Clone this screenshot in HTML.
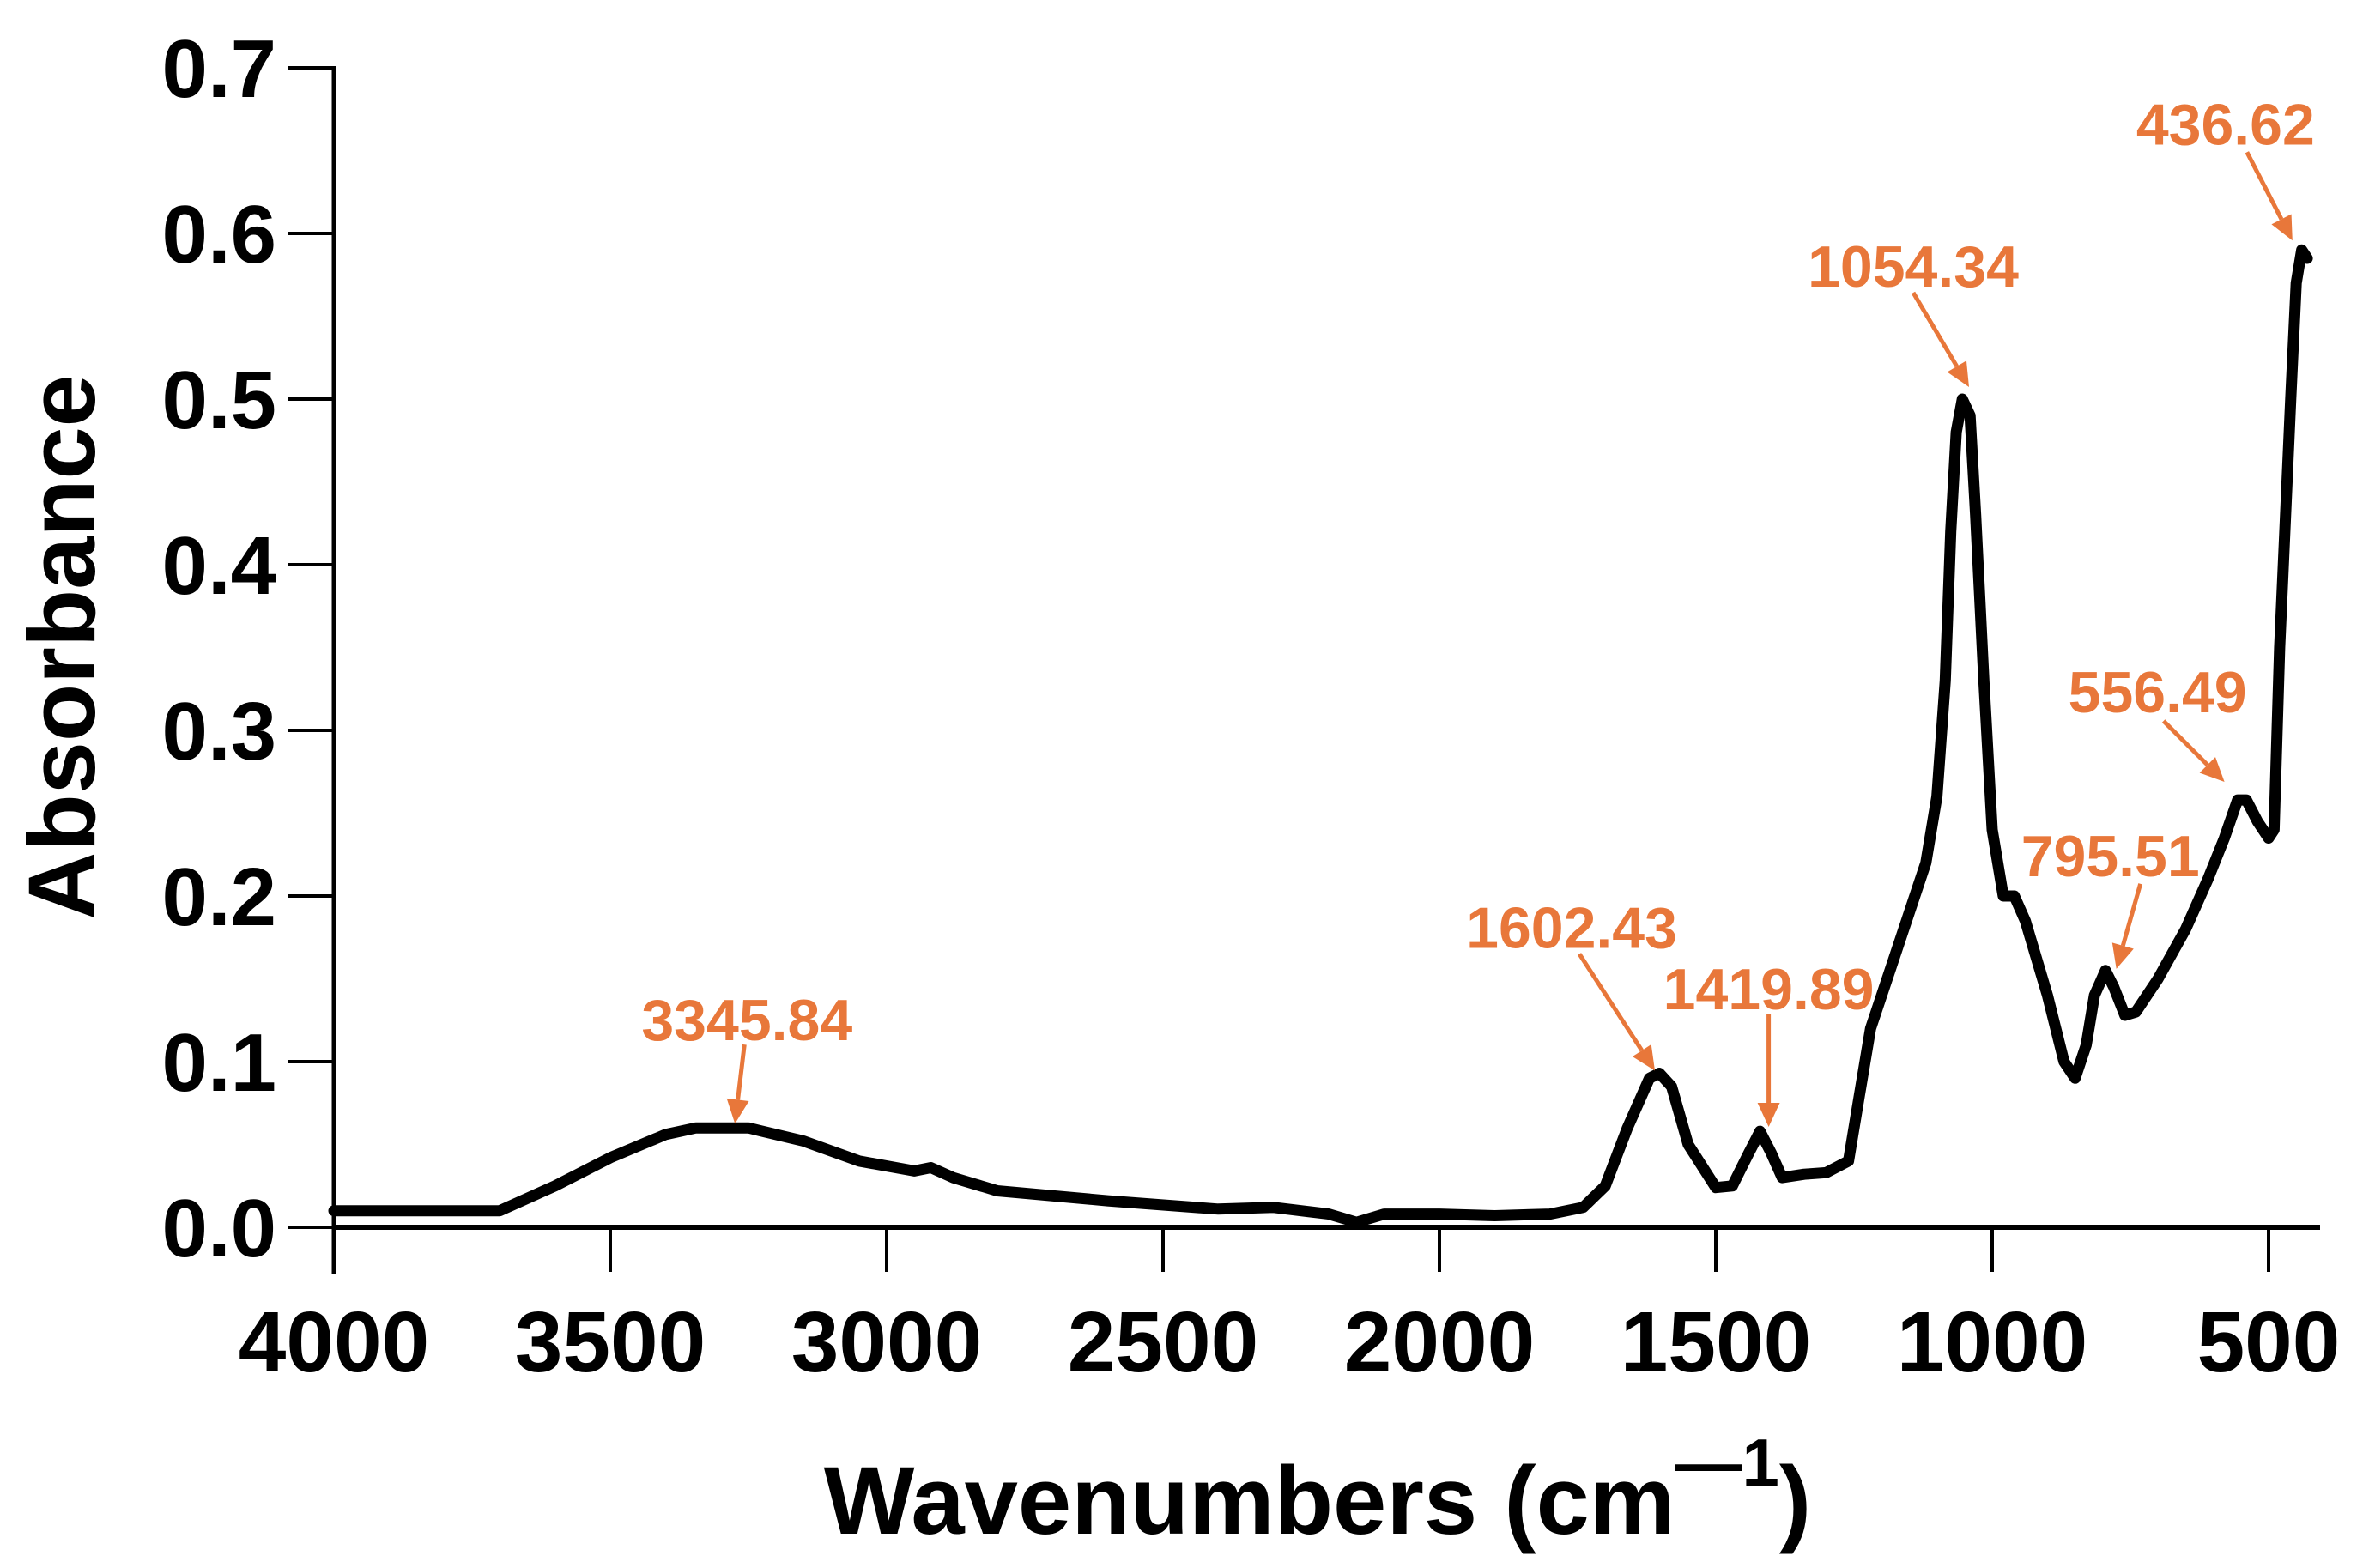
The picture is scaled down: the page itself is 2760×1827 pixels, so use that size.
<!DOCTYPE html>
<html><head><meta charset="utf-8"><style>
html,body{margin:0;padding:0;background:#fff;}
svg{display:block;font-family:"Liberation Sans",Arial,sans-serif;}
</style></head><body>
<svg id="chart" width="2760" height="1827" viewBox="0 0 2760 1827" xmlns="http://www.w3.org/2000/svg">
<g id="axes"></g>
<g id="series"></g>
<g id="annots"></g>
<text x="1535" y="1787" font-size="112" font-weight="bold" text-anchor="middle">Wavenumbers (cm<tspan font-size="78" dy="-56">—1</tspan><tspan dy="56">)</tspan></text>
<text transform="translate(110,754) rotate(-90)" font-size="110" font-weight="bold" text-anchor="middle">Absorbance</text>
</svg>
<script>
const wavenumbers=[4000,3700,3600,3500,3400,3345,3250,3150,3050,2950,2920,2880,2800,2600,2400,2300,2200,2150,2100,2000,1900,1800,1740,1700,1660,1620,1602,1580,1550,1500,1470,1440,1420,1400,1380,1340,1300,1260,1240,1220,1180,1150,1120,1100,1085,1075,1065,1054,1040,1030,1015,1000,980,960,940,900,870,850,830,815,795,780,760,740,700,650,610,580,556,540,520,500,490,480,460,450,440,430];
const absorbance=[0.010,0.010,0.025,0.042,0.056,0.060,0.060,0.052,0.040,0.034,0.036,0.030,0.022,0.016,0.011,0.012,0.008,0.003,0.008,0.008,0.007,0.008,0.012,0.025,0.060,0.090,0.093,0.085,0.050,0.024,0.025,0.045,0.058,0.045,0.030,0.032,0.033,0.040,0.080,0.120,0.160,0.190,0.220,0.260,0.330,0.420,0.480,0.500,0.490,0.430,0.330,0.240,0.200,0.200,0.185,0.140,0.100,0.090,0.110,0.140,0.155,0.145,0.128,0.130,0.150,0.180,0.210,0.235,0.258,0.258,0.245,0.235,0.240,0.350,0.500,0.570,0.590,0.585];
const xTicks=[4000,3500,3000,2500,2000,1500,1000,500];
const yTicks=[0.0,0.1,0.2,0.3,0.4,0.5,0.6,0.7];
const peakLabels=["3345.84","1602.43","1419.89","1054.34","436.62","556.49","795.51"];
const peakWn=[3345.84,1602.43,1419.89,1054.34,436.62,556.49,795.51];
const peakAbs=[0.060,0.093,0.058,0.500,0.590,0.258,0.155];
const NS="http://www.w3.org/2000/svg";
const X0=389,PX500=322,Y0=1430,PY01=193;
const xs=w=>X0+(4000-w)/500*PX500;
const ys=a=>Y0-a*10*PY01;
function mk(tag,attrs,parent){const e=document.createElementNS(NS,tag);for(const k in attrs)e.setAttribute(k,attrs[k]);parent.appendChild(e);return e;}
const axes=document.getElementById('axes');
let l=mk('line',{x1:X0,y1:ys(0.7)-2,x2:X0,y2:Y0+55,stroke:'#000','stroke-width':5},axes);


l=mk('line',{x1:X0-2,y1:Y0,x2:2703,y2:Y0,stroke:'#000','stroke-width':6},axes);


yTicks.forEach(v=>{
 const t=mk('line',{x1:335,y1:ys(v),x2:X0,y2:ys(v),stroke:'#000','stroke-width':4},axes);
 
 
 const tx=mk('text',{x:322,y:ys(v)+34,'font-size':96,'font-weight':'bold','text-anchor':'end'},axes);
 tx.textContent=v.toFixed(1);
 
 
});
xTicks.forEach(v=>{
 const t=mk('line',{x1:xs(v),y1:Y0,x2:xs(v),y2:1482,stroke:'#000','stroke-width':4},axes);
 
 
 const tx=mk('text',{x:xs(v),y:1598,'font-size':100,'font-weight':'bold','text-anchor':'middle'},axes);
 tx.textContent=String(v);
 
 
});
const series=document.getElementById('series');
const d=wavenumbers.map((w,i)=>(i?'L':'M')+xs(w).toFixed(1)+','+ys(absorbance[i]).toFixed(1)).join(' ');
const p=mk('path',{d:d,fill:'none',stroke:'#000','stroke-width':13,'stroke-linejoin':'round','stroke-linecap':'round'},series);


// layout offsets relative to each peak point (label baseline, arrow start, arrow tip)
const offs=[[60,-102],[-102,-146],[10,-142],[-57,-131],[-91,-123],[-93,-102],[6,-110]];
const startOff=[[57,-97],[-93,-139],[10,-136],[-57,-124],[-66,-114],[-86,-92],[41,-101]];
const tipOff=[[46,-5],[-5,-3],[10,-5],[8,-14],[-13,-11],[-15,-21],[13,-2]];
const ann=document.getElementById('annots');
const col='#E8773A';
peakLabels.forEach((lab,i)=>{
 const px=xs(peakWn[i]),py=ys(peakAbs[i]);
 const t=mk('text',{x:px+offs[i][0],y:py+offs[i][1],'font-size':68,'font-weight':'bold',fill:col,'text-anchor':'middle'},ann);
 t.textContent=lab;
 
 
 const sx=px+startOff[i][0],sy=py+startOff[i][1];
 const ex=px+tipOff[i][0],ey=py+tipOff[i][1];
 const dx=ex-sx,dy=ey-sy,len=Math.hypot(dx,dy),ux=dx/len,uy=dy/len;
 const bx=ex-ux*28,by=ey-uy*28;
 const a=mk('line',{x1:sx,y1:sy,x2:bx,y2:by,stroke:col,'stroke-width':5},ann);
 
 
 const h=mk('polygon',{points:`${ex},${ey} ${bx-uy*13},${by+ux*13} ${bx+uy*13},${by-ux*13}`,fill:col},ann);
 
 
});
</script>
</body></html>
